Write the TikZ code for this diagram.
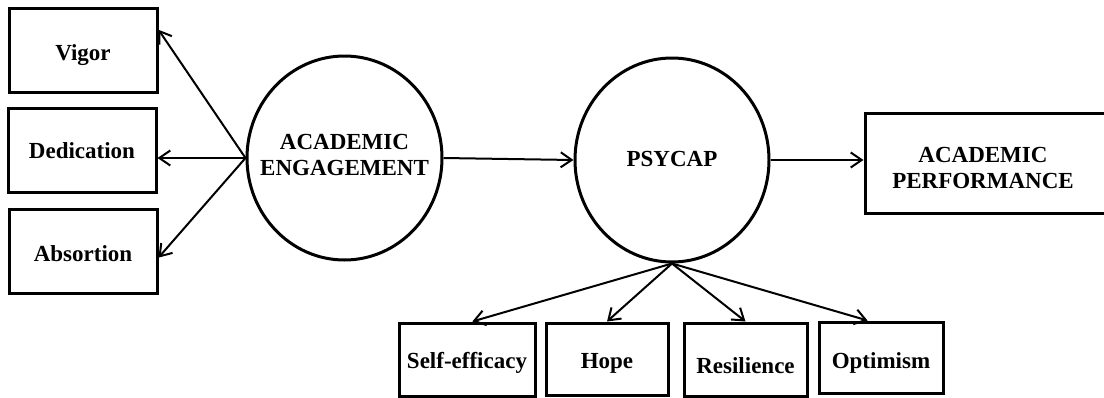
\documentclass[tikz,border=0pt]{standalone}
\usepackage{fontspec}
\setmainfont{Liberation Serif}
\usetikzlibrary{arrows.meta,shapes.geometric}
\begin{document}
\begin{tikzpicture}[x=1pt,y=-1pt,
  txt/.style={font=\fontsize{23}{26}\selectfont\bfseries,align=center,inner sep=0pt},
  box/.style={draw,line width=3pt,rectangle,inner sep=0pt},
  latent/.style={draw,line width=3pt,ellipse,inner sep=0pt},
  link/.style={line width=2pt,-{Straight Barb[length=11pt,width=15pt,line width=2pt]}}]
\useasboundingbox (0,0) rectangle (1104,397);
\clip (0,0) rectangle (1104,397);
\node[box,minimum width=148pt,minimum height=84pt,label={[txt,yshift=-5pt]center:Vigor}] (vigor) at (83,50) {};
\node[box,minimum width=148pt,minimum height=84pt,label={[txt,yshift=-1pt]center:Dedication}] (ded) at (82,150) {};
\node[box,minimum width=148pt,minimum height=84pt,label={[txt,yshift=-3pt]center:Absortion}] (abs) at (83,251) {};
\node[latent,minimum width=195pt,minimum height=204pt,label={[txt,yshift=3pt]center:ACADEMIC\\ENGAGEMENT}] (ae) at (344.5,158) {};
\node[latent,minimum width=194pt,minimum height=204pt,label={[txt,yshift=1pt]center:PSYCAP}] (ps) at (672,160) {};
\node[box,minimum width=241pt,minimum height=100pt,label={[txt,xshift=-2.5pt,yshift=-5pt]center:ACADEMIC\\PERFORMANCE}] (ap) at (985.5,163) {};
\node[box,minimum width=136pt,minimum height=73pt,label={[txt,yshift=-3pt]center:Self-efficacy}] (se) at (467,359.5) {};
\node[box,minimum width=122pt,minimum height=72pt,label={[txt,yshift=-4pt]center:Hope}] (hope) at (607,359) {};
\node[box,minimum width=123pt,minimum height=73pt,label={[txt,yshift=-6pt]center:Resilience}] (res) at (745.5,359.5) {};
\node[box,minimum width=124pt,minimum height=71pt,label={[txt,yshift=-5pt]center:Optimism}] (opt) at (881,357.5) {};
\draw[link] (ae.west) -- (vigor.15);
\draw[link] (ae.west) -- (ae.west -| ded.east);
\draw[link] (ae.west) -- (abs.-5);
\draw[link] (ae.east) -- (ps.west);
\draw[link] (ps.east) -- (ps.east -| ap.west);
\draw[link] (ps.south) -- (se.82);
\draw[link] (ps.south) -- (hope.north);
\draw[link] (ps.south) -- (res.north);
\draw[link] (ps.south) -- (opt.110);
\end{tikzpicture}
\end{document}
